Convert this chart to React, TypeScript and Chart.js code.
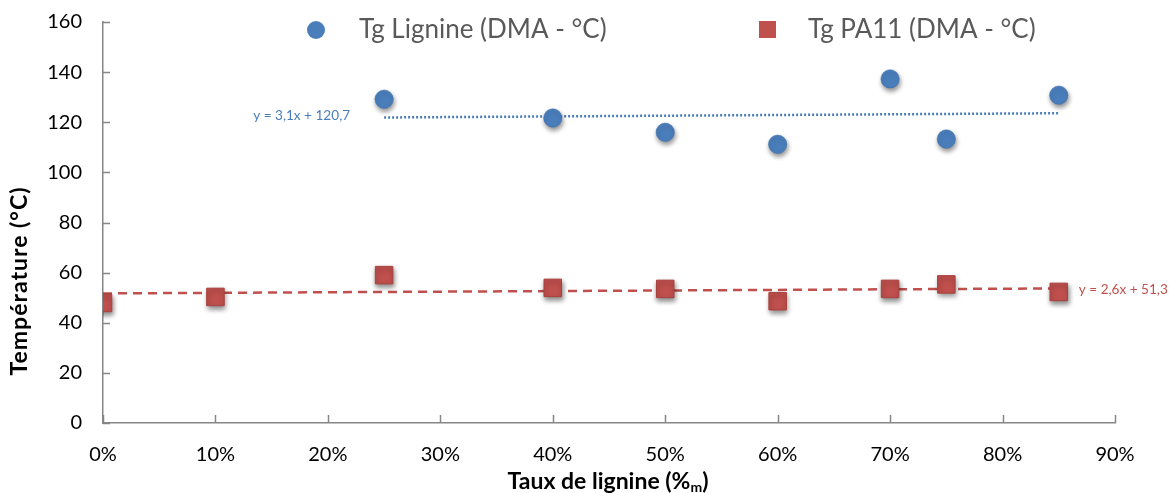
import React, { useEffect, useRef } from "react";
import { Chart, registerables } from "chart.js";

Chart.register(...registerables);

const ligninRatio = [0.25, 0.4, 0.5, 0.6, 0.7, 0.75, 0.85];
const tgLignine = [129.2, 121.7, 116.0, 111.2, 137.3, 113.3, 130.8];
const pa11Ratio = [0, 0.1, 0.25, 0.4, 0.5, 0.6, 0.7, 0.75, 0.85];
const tgPA11 = [47.9, 50.3, 59.0, 53.9, 53.5, 48.6, 53.5, 55.3, 52.3];
const trendLigX = [0.25, 0.85];
const trendLigY = [121.9, 123.6];
const trendPAX = [0, 0.85];
const trendPAY = [51.7, 53.7];
const legendLabels = ["Tg Lignine (DMA - °C)", "Tg PA11 (DMA - °C)"];
const trendLabels = ["y = 3,1x + 120,7", "y = 2,6x + 51,3"];
const yTitle = "Température (°C)";
const xTitleMain = "Taux de lignine (%";
const xTitleSub = "m";
const xTitleEnd = ")";

const BLUE = "#4a7ebb";
const RED = "#c0504d";
const FONT = "Lato, 'Open Sans', sans-serif";

const toXY = (xs: number[], ys: number[]) => xs.map((x, i) => ({ x, y: ys[i] }));

export default function App() {
  const ref = useRef<HTMLCanvasElement | null>(null);
  useEffect(() => {
    document.body.style.margin = "0";
    const canvas = ref.current!;
    const shadowPlugin = {
      id: "shadow",
      beforeDatasetDraw(chart: any, args: any) {
        const ds = chart.data.datasets[args.index];
        if (ds.showLine === false) {
          const c = chart.ctx;
          c.save();
          c.shadowColor = "rgba(0,0,0,0.45)";
          c.shadowBlur = 5;
          c.shadowOffsetX = 1;
          c.shadowOffsetY = 3;
        }
      },
      afterDatasetDraw(chart: any, args: any) {
        const ds = chart.data.datasets[args.index];
        if (ds.showLine === false) chart.ctx.restore();
      },
    };
    const decor = {
      id: "decor",
      afterDraw(chart: any) {
        const c = chart.ctx;
        const a = chart.chartArea;
        const xs = chart.scales.x;
        const ys = chart.scales.y;
        c.save();
        // inward ticks
        c.strokeStyle = "#868686";
        c.lineWidth = 1.5;
        ys.ticks.forEach((t: any) => {
          const p = Math.round(ys.getPixelForValue(t.value)) + 0.5;
          c.beginPath();
          c.moveTo(a.left, p);
          c.lineTo(a.left + 7, p);
          c.stroke();
        });
        xs.ticks.forEach((t: any) => {
          const p = Math.round(xs.getPixelForValue(t.value)) + 0.5;
          c.beginPath();
          c.moveTo(p, a.bottom);
          c.lineTo(p, a.bottom - 8);
          c.stroke();
        });
        // legend
        const ly = 30;
        c.fillStyle = BLUE;
        c.beginPath();
        c.arc(316, ly, 9, 0, Math.PI * 2);
        c.fill();
        c.fillStyle = RED;
        c.fillRect(759, ly - 9, 17, 17);
        c.fillStyle = "#595959";
        c.font = `26px ${FONT}`;
        c.textBaseline = "middle";
        c.textAlign = "left";
        c.fillText(legendLabels[0], 359, ly);
        c.fillText(legendLabels[1], 808, ly);
        // trend labels
        c.font = `13.6px ${FONT}`;
        c.fillStyle = BLUE;
        c.textAlign = "right";
        c.fillText(trendLabels[0], xs.getPixelForValue(trendLigX[0]) - 34, ys.getPixelForValue(trendLigY[0]) - 2);
        c.fillStyle = RED;
        c.textAlign = "left";
        c.fillText(trendLabels[1], xs.getPixelForValue(trendPAX[1]) + 20, ys.getPixelForValue(trendPAY[1]) + 1);
        // y title
        c.fillStyle = "#000";
        c.font = `bold 23px ${FONT}`;
        c.textAlign = "center";
        (c as any).letterSpacing = "1px";
        c.translate(20, 281);
        c.rotate(-Math.PI / 2);
        c.fillText(yTitle, 0, 0);
        c.setTransform(1, 0, 0, 1, 0, 0);
        (c as any).letterSpacing = "0px";
        // x title with subscript
        const big = `bold 23px ${FONT}`;
        const small = `bold 14px ${FONT}`;
        c.font = big;
        const w1 = c.measureText(xTitleMain).width;
        const w3 = c.measureText(xTitleEnd).width;
        c.font = small;
        const w2 = c.measureText(xTitleSub).width;
        const total = w1 + w2 + w3;
        let x0 = 608 - total / 2;
        const by = 489;
        c.textAlign = "left";
        c.textBaseline = "alphabetic";
        c.font = big;
        c.fillText(xTitleMain, x0, by);
        x0 += w1;
        c.font = small;
        c.fillText(xTitleSub, x0, by + 3);
        x0 += w2;
        c.font = big;
        c.fillText(xTitleEnd, x0, by);
        c.restore();
      },
    };
    const chart = new Chart(canvas, {
      type: "scatter",
      data: {
        datasets: [
          {
            label: "trendLig",
            data: toXY(trendLigX, trendLigY),
            showLine: true,
            borderColor: BLUE,
            borderWidth: 2.5,
            borderDash: [2, 2],
            pointRadius: 0,
            order: 3,
          } as any,
          {
            label: "trendPA",
            data: toXY(trendPAX, trendPAY),
            showLine: true,
            borderColor: RED,
            borderWidth: 2.5,
            borderDash: [9, 6],
            pointRadius: 0,
            order: 3,
          } as any,
          {
            label: legendLabels[0],
            data: toXY(ligninRatio, tgLignine),
            showLine: false,
            pointStyle: "circle",
            pointRadius: 9.2,
            backgroundColor: BLUE,
            borderColor: "#3d6eaa",
            borderWidth: 0.5,
            order: 1,
          } as any,
          {
            label: legendLabels[1],
            data: toXY(pa11Ratio, tgPA11),
            showLine: false,
            pointStyle: "rect",
            pointRadius: 12.4,
            backgroundColor: RED,
            borderColor: "#a9403d",
            borderWidth: 1,
            order: 1,
          } as any,
        ],
      },
      options: {
        animation: false,
        responsive: false,
        events: [],
        layout: { padding: { top: 22, right: 58, left: 0, bottom: 0 } },
        plugins: { legend: { display: false }, tooltip: { enabled: false } },
        scales: {
          x: {
            type: "linear",
            min: 0,
            max: 0.9,
            border: { color: "#868686", width: 1.5 },
            grid: { display: false, drawTicks: false },
            ticks: {
              stepSize: 0.1,
              padding: 20,
              color: "#000",
              font: { family: FONT, size: 20 },
              callback: (v: any) => Math.round(Number(v) * 100) + "%",
            },
            afterFit: (s: any) => {
              s.height = 70;
              s.paddingLeft = 0;
              s.paddingRight = 0;
            },
          },
          y: {
            type: "linear",
            min: 0,
            max: 160,
            border: { color: "#868686", width: 1.5 },
            grid: { display: false, drawTicks: false },
            ticks: {
              stepSize: 20,
              padding: 21,
              color: "#000",
              font: { family: FONT, size: 20 },
            },
            afterFit: (s: any) => {
              s.width = 103;
              s.paddingTop = 0;
              s.paddingBottom = 0;
            },
          },
        },
      },
      plugins: [shadowPlugin, decor],
    });
    return () => chart.destroy();
  }, []);
  return (
    <div style={{ position: "absolute", left: 0, top: 0, width: 1173, height: 493, background: "#fff" }}>
      <canvas ref={ref} width={1173} height={493} style={{ display: "block" }} />
    </div>
  );
}
